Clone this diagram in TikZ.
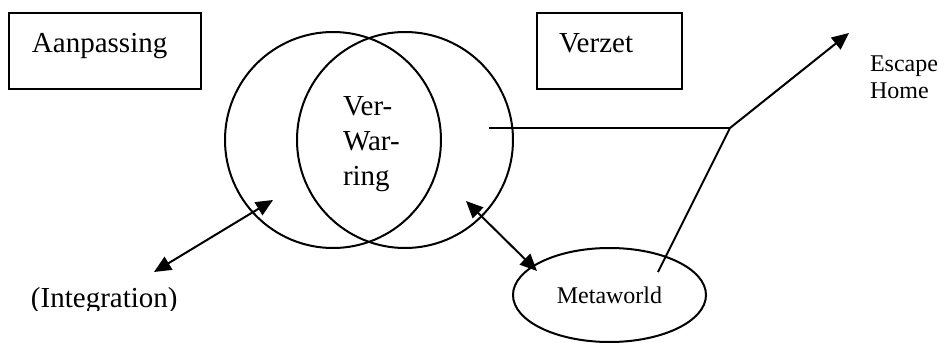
\documentclass[tikz,border=0pt]{standalone}
\usepackage{fontspec}
\setmainfont{Liberation Serif}
\usetikzlibrary{arrows.meta,shapes.geometric}
\begin{document}
\begin{tikzpicture}[x=0.5pt,y=-0.5pt,
  line width=1pt,
  boxnode/.style={draw,rectangle,inner sep=0pt},
  ringnode/.style={draw,circle,inner sep=0pt,minimum size=108pt},
  bigtext/.style={inner sep=0pt,anchor=base west,font=\fontsize{14.5}{17.5}\selectfont},
  smalltext/.style={inner sep=0pt,anchor=base west,font=\fontsize{12}{13.5}\selectfont},
  conn/.style={line width=1pt},
  dblarrow/.style={conn,{Triangle[length=8.5pt,width=7.5pt]}-{Triangle[length=8.5pt,width=7.5pt]}},
  onearrow/.style={conn,-{Triangle[length=8.5pt,width=7.5pt]}}]
\useasboundingbox (0,0) rectangle (939,343);
% boxes
\node[boxnode,minimum width=96pt,minimum height=38pt] (boxA) at (105,51) {};
\node[bigtext] (tA) at (31,52) {Aanpassing};
\node[boxnode,minimum width=72.5pt,minimum height=38pt] (boxV) at (609.5,51) {};
\node[bigtext] (tV) at (558,52) {Verzet};
% circles
\node[ringnode] (L) at (333,140) {};
\node[ringnode] (R) at (405,140) {};
\node[bigtext] (v1) at (342,115) {Ver-};
\node[bigtext] (v2) at (342,150) {War-};
\node[bigtext] (v3) at (342,185) {ring};
% metaworld
\node[draw,ellipse,inner sep=0pt,minimum width=96.5pt,minimum height=47pt,
      font=\fontsize{12}{13.5}\selectfont] (M) at (609.5,295) {Metaworld};
% labels
\begin{scope}
\clip (0,0) rectangle (400,310);
\node[bigtext] (tI) at (30,307) {(Integration)};
\end{scope}
\node[smalltext] (tE) at (869,71) {Escape};
\node[smalltext] (tH) at (869,98) {Home};
% connector points
\coordinate (a1) at (154,272);
\coordinate (a2) at (273,200);
\coordinate (b1) at (466,201);
\coordinate (b2) at (537,271);
\coordinate (h0) at (489,128);
\coordinate (J) at (730,128);
\coordinate (E) at (849,33);
\coordinate (m0) at (658,272);
% connectors
\draw[dblarrow] (a1) -- (a2);
\draw[dblarrow] (b1) -- (b2);
\draw[conn] (h0) -- (J);
\draw[onearrow] (J) -- (E);
\draw[conn] (m0) -- (J);
\end{tikzpicture}
\end{document}
